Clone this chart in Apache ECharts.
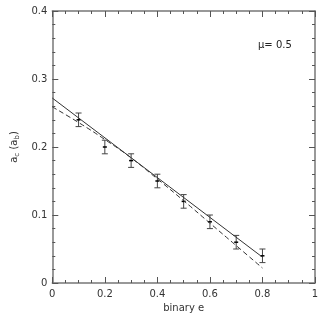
<!DOCTYPE html>
<html>
<head>
<meta charset="utf-8">
<script src="https://cdn.jsdelivr.net/npm/echarts@6/dist/echarts.min.js"></script>
<style>
  html, body { margin: 0; padding: 0; background: #fff; }
  #chart { width: 327px; height: 321px; }
</style>
</head>
<body>
<div id="chart"></div>
<script>
// data
var binaryE = [0.1, 0.2, 0.3, 0.4, 0.5, 0.6, 0.7, 0.8];
var ac = [0.24, 0.20, 0.18, 0.15, 0.12, 0.09, 0.06, 0.04];
var acErr = [0.01, 0.01, 0.01, 0.01, 0.01, 0.01, 0.01, 0.01];
var fitX = [0, 0.8];
var fitSolid = [0.272, 0.038];
var curveX = [0, 0.1, 0.2, 0.3, 0.4, 0.5, 0.6, 0.7, 0.8];
var curveDashed = [0.259, 0.236, 0.211, 0.184, 0.153, 0.121, 0.088, 0.055, 0.022];

var font = 'DejaVu Sans';
var chart = echarts.init(document.getElementById('chart'));

function axisCommon(show) {
  return {
    axisLine: { show: true, onZero: false, lineStyle: { color: '#777', width: 1.5 } },
    axisTick: { show: true, inside: true, length: 6, lineStyle: { color: '#555' } },
    minorTick: { show: true, length: 3, lineStyle: { color: '#555' } },
    splitLine: { show: false },
    axisLabel: { show: show, color: '#333', fontFamily: font, fontSize: 10 }
  };
}

var xBottom = Object.assign(axisCommon(true), {
  type: 'value', min: 0, max: 1, interval: 0.2, position: 'bottom',
  name: 'binary e', nameLocation: 'middle', nameGap: 18,
  nameTextStyle: { color: '#333', fontFamily: font, fontSize: 10 }
});
xBottom.minorTick.splitNumber = 4;
xBottom.axisLabel.formatter = function (v) { return v === 0 || v === 1 ? String(v) : v.toFixed(1); };
xBottom.axisLabel.margin = 6;

var xTop = Object.assign(axisCommon(false), { type: 'value', min: 0, max: 1, interval: 0.2, position: 'top' });
xTop.minorTick.splitNumber = 4;

var yLeft = Object.assign(axisCommon(true), {
  type: 'value', min: 0, max: 0.4, interval: 0.1, position: 'left',
  name: '{m|a}{s|c} {m|(a}{s|b}{m|)}', nameLocation: 'middle', nameGap: 27, nameRotate: 90,
  nameTextStyle: {
    rich: {
      m: { color: '#333', fontFamily: font, fontSize: 10 },
      s: { color: '#333', fontFamily: font, fontSize: 7, verticalAlign: 'bottom', padding: [6, 0, 0, 0] }
    }
  }
});
yLeft.minorTick.splitNumber = 5;
yLeft.axisLabel.formatter = function (v) { return v === 0 ? '0' : v.toFixed(1); };
yLeft.axisLabel.margin = 5;

var yRight = Object.assign(axisCommon(false), { type: 'value', min: 0, max: 0.4, interval: 0.1, position: 'right' });
yRight.minorTick.splitNumber = 5;

var pts = binaryE.map(function (x, i) { return [x, ac[i], ac[i] - acErr[i], ac[i] + acErr[i]]; });

chart.setOption({
  animation: false,
  backgroundColor: '#fff',
  grid: { left: 42, right: 12, top: 11, bottom: 38 },
  xAxis: [xBottom, xTop],
  yAxis: [yLeft, yRight],
  graphic: [{
    type: 'text', left: 258, top: 40,
    style: { text: 'μ= 0.5', fill: '#222', font: '10px ' + font }
  }],
  series: [
    {
      type: 'line', showSymbol: false, xAxisIndex: 0, yAxisIndex: 0,
      lineStyle: { color: '#333', width: 1 },
      data: fitX.map(function (x, i) { return [x, fitSolid[i]]; })
    },
    {
      type: 'line', showSymbol: false, smooth: true,
      lineStyle: { color: '#333', width: 1, type: [5, 3] },
      data: curveX.map(function (x, i) { return [x, curveDashed[i]]; })
    },
    {
      type: 'custom',
      data: pts,
      renderItem: function (params, api) {
        var c = api.coord([api.value(0), api.value(1)]);
        var lo = api.coord([api.value(0), api.value(2)]);
        var hi = api.coord([api.value(0), api.value(3)]);
        var w = 3;
        var st = { stroke: '#444', lineWidth: 1 };
        return {
          type: 'group',
          children: [
            { type: 'line', shape: { x1: c[0], y1: lo[1], x2: c[0], y2: hi[1] }, style: st },
            { type: 'line', shape: { x1: c[0] - w, y1: lo[1], x2: c[0] + w, y2: lo[1] }, style: st },
            { type: 'line', shape: { x1: c[0] - w, y1: hi[1], x2: c[0] + w, y2: hi[1] }, style: st },
            { type: 'line', shape: { x1: c[0] - 2, y1: c[1], x2: c[0] + 2, y2: c[1] }, style: { stroke: '#000', lineWidth: 1.5 } }
          ]
        };
      }
    }
  ]
});
</script>
</body>
</html>
